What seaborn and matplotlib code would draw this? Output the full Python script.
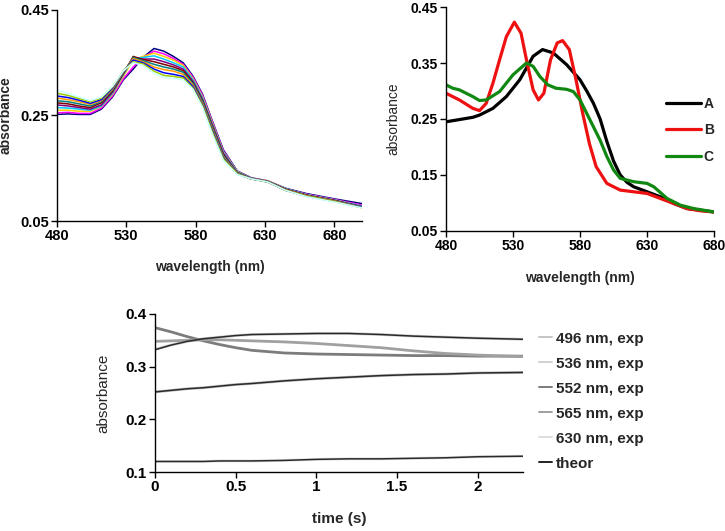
import numpy as np
import pandas as pd
import matplotlib
matplotlib.use("Agg")
import matplotlib.pyplot as plt
from matplotlib.lines import Line2D
import seaborn as sns

# ---- top-left: family of spectra recorded over time ----
wl_left = [480, 488, 496, 504, 512, 520, 528, 535, 542, 550, 557, 564,
           571, 578, 585, 592, 600, 610, 620, 632, 645, 660, 680, 700]
spectra_left = [
    [.252, .253, .252, .252, .262, .285, .318, .338, .360, .377, .372, .362, .350, .325, .290, .240, .185, .145, .132, .126, .112, .102, .092, .083],
    [.255, .256, .254, .254, .264, .287, .320, .342, .360, .372, .367, .358, .347, .323, .288, .238, .183, .144, .131, .126, .111, .101, .091, .080],
    [.260, .260, .258, .258, .267, .290, .325, .355, .362, .368, .362, .355, .345, .320, .285, .236, .181, .144, .131, .126, .111, .100, .090, .078],
    [.265, .264, .262, .260, .268, .292, .328, .358, .360, .363, .357, .350, .342, .318, .283, .234, .180, .143, .131, .125, .111, .100, .090, .078],
    [.270, .268, .265, .262, .270, .294, .330, .360, .357, .357, .352, .346, .338, .315, .280, .232, .178, .142, .131, .125, .110, .099, .089, .077],
    [.274, .272, .268, .265, .274, .296, .330, .362, .356, .352, .347, .342, .335, .313, .278, .230, .176, .141, .130, .125, .110, .099, .089, .077],
    [.278, .276, .272, .268, .276, .298, .332, .360, .354, .347, .342, .338, .332, .311, .276, .228, .174, .141, .130, .125, .109, .098, .088, .077],
    [.283, .280, .276, .271, .278, .300, .333, .358, .352, .342, .337, .334, .328, .308, .273, .225, .172, .140, .130, .124, .109, .098, .088, .076],
    [.287, .284, .279, .273, .280, .302, .334, .355, .350, .338, .331, .328, .324, .305, .270, .222, .170, .139, .130, .124, .108, .097, .087, .076],
    [.292, .288, .282, .276, .283, .304, .335, .352, .348, .334, .326, .324, .321, .302, .268, .219, .168, .139, .130, .124, .108, .097, .087, .075],
    [.298, .292, .285, .278, .285, .305, .335, .350, .345, .330, .322, .320, .318, .300, .265, .215, .165, .138, .130, .124, .108, .096, .086, .075],
]
colors_left = ["#000080", "#FF00FF", "#FFCC00", "#00CCFF", "#800080", "#800000",
               "#008080", "#FF9900", "#0000FF", "#99CC00", "#CCFFFF"]

# ---- top-right: three reference spectra ----
wl_A = [480, 490, 500, 505, 515, 525, 535, 545, 552, 560, 570, 580, 585, 590,
        595, 600, 605, 610, 615, 620, 630, 640, 650, 660, 670, 680]
abs_A = [.245, .249, .253, .257, .269, .290, .320, .362, .374, .368, .347, .320, .300, .278,
         .250, .210, .175, .150, .137, .129, .120, .111, .099, .090, .087, .084]
wl_B = [480, 490, 500, 505, 510, 515, 520, 525, 531, 536, 540, 545, 549, 553, 558, 563,
        567, 572, 577, 582, 587, 592, 600, 610, 620, 630, 640, 650, 660, 670, 680]
abs_B = [.296, .284, .269, .265, .278, .314, .356, .397, .423, .403, .356, .302, .284, .296, .356, .386,
         .390, .374, .320, .260, .206, .165, .135, .123, .120, .117, .108, .099, .090, .086, .084]
wl_C = [480, 485, 490, 500, 505, 510, 520, 530, 540, 545, 550, 556, 562, 570, 575, 580,
        585, 590, 595, 600, 605, 610, 620, 630, 635, 645, 655, 665, 680]
abs_C = [.311, .305, .302, .290, .283, .284, .299, .329, .350, .344, .326, .311, .305, .303, .299, .284,
         .260, .236, .212, .183, .159, .144, .138, .135, .129, .108, .096, .090, .084]

# ---- bottom: kinetic traces (exp) and fits (theor) ----
time_s = [0, 0.1, 0.2, 0.3, 0.4, 0.5, 0.6, 0.8, 1.0, 1.2, 1.4, 1.6, 1.8, 2.0, 2.28]
kin_496 = [.252, .255, .258, .260, .263, .266, .268, .273, .277, .280, .283, .285, .286, .288, .289]
kin_536 = [.333, .341, .348, .353, .356, .359, .361, .362, .363, .363, .361, .358, .356, .354, .352]
kin_552 = [.374, .366, .357, .349, .342, .336, .331, .326, .324, .323, .322, .321, .321, .320, .320]
kin_565 = [.348, .349, .350, .351, .351, .350, .349, .347, .344, .340, .336, .330, .325, .322, .319]
kin_630 = [.120, .120, .120, .120, .121, .121, .121, .122, .124, .125, .125, .126, .127, .129, .130]
theor_496 = [.252, .255, .258, .260, .263, .266, .268, .273, .277, .280, .283, .285, .286, .288, .289]
theor_536 = [.332, .341, .348, .353, .356, .359, .361, .362, .363, .363, .361, .358, .356, .354, .352]
theor_630 = [.120, .120, .120, .120, .121, .121, .121, .122, .124, .125, .125, .126, .127, .129, .130]
kin_labels = ["496 nm, exp", "536 nm, exp", "552 nm, exp", "565 nm, exp", "630 nm, exp"]
kin_colors = ["#c4c4c4", "#d0d0d0", "#7c7c7c", "#a0a0a0", "#dedede"]

sns.set_style("ticks")
plt.rcParams["font.family"] = ["Liberation Sans", "DejaVu Sans"]
plt.rcParams["axes.linewidth"] = 1.0

fig = plt.figure(figsize=(7.25, 5.31), dpi=100)
ax1 = fig.add_axes([0.0786, 0.5838, 0.4207, 0.3974])
ax2 = fig.add_axes([0.6152, 0.565, 0.3697, 0.4218])
ax3 = fig.add_axes([0.2138, 0.1111, 0.5076, 0.2976])

# top-left
rows = []
for i, spec in enumerate(spectra_left):
    for w, a in zip(wl_left, spec):
        rows.append((w, a, i))
df_left = pd.DataFrame(rows, columns=["wl", "abs", "trace"])
sns.lineplot(data=df_left, x="wl", y="abs", hue="trace", palette=colors_left,
             linewidth=1.1, legend=False, ax=ax1)
ax1.set_xlim(480, 700)
ax1.set_ylim(0.05, 0.45)
ax1.set_xticks([480, 530, 580, 630, 680])
ax1.set_yticks([0.05, 0.25, 0.45])
ax1.set_yticklabels(["0.05", "0.25", "0.45"])
ax1.set_xlabel("wavelength (nm)", fontsize=10, fontweight="bold", labelpad=12)
ax1.set_ylabel("absorbance", fontsize=10, fontweight="bold", labelpad=5)

# top-right
df_right = pd.concat([
    pd.DataFrame({"wl": wl_A, "abs": abs_A, "sample": "A"}),
    pd.DataFrame({"wl": wl_B, "abs": abs_B, "sample": "B"}),
    pd.DataFrame({"wl": wl_C, "abs": abs_C, "sample": "C"}),
])
sns.lineplot(data=df_right, x="wl", y="abs", hue="sample",
             palette={"A": "black", "B": "#ee1111", "C": "#118811"},
             linewidth=2.3, ax=ax2)
ax2.set_xlim(480, 680)
ax2.set_ylim(0.05, 0.45)
ax2.set_xticks([480, 530, 580, 630, 680])
ax2.set_yticks([0.05, 0.15, 0.25, 0.35, 0.45])
ax2.set_yticklabels(["0.05", "0.15", "0.25", "0.35", "0.45"])
ax2.set_xlabel("wavelength (nm)", fontsize=10, fontweight="bold", labelpad=13)
ax2.set_ylabel("absorbance", fontsize=10, labelpad=7)
ax2.legend(loc="upper left", bbox_to_anchor=(0.775, 0.655), frameon=False,
           handlelength=2.5, handletextpad=0.2, labelspacing=0.9,
           prop={"weight": "bold", "size": 10})

# bottom
kin_series = [kin_496, kin_536, kin_552, kin_565, kin_630]
df_kin = pd.concat([pd.DataFrame({"t": time_s, "abs": s, "wl": lab})
                    for s, lab in zip(kin_series, kin_labels)])
sns.lineplot(data=df_kin, x="t", y="abs", hue="wl",
             palette=dict(zip(kin_labels, kin_colors)),
             linewidth=2.0, legend=False, ax=ax3)
df_theor = pd.concat([pd.DataFrame({"t": time_s, "abs": s, "wl": w})
                      for s, w in zip([theor_496, theor_536, theor_630], ["496", "536", "630"])])
sns.lineplot(data=df_theor, x="t", y="abs", units="wl", estimator=None,
             color="#2a2a2a", linewidth=1.1, legend=False, ax=ax3)
ax3.set_xlim(0, 2.28)
ax3.set_ylim(0.1, 0.4)
ax3.set_xticks([0, 0.5, 1, 1.5, 2])
ax3.set_xticklabels(["0", "0.5", "1", "1.5", "2"])
ax3.set_yticks([0.1, 0.2, 0.3, 0.4])
ax3.set_yticklabels(["0.1", "0.2", "0.3", "0.4"])
ax3.set_xlabel("time (s)", fontsize=11, fontweight="bold", labelpad=13)
ax3.set_ylabel("absorbance", fontsize=11, labelpad=11)
handles = [Line2D([], [], color=c, linewidth=1.4) for c in kin_colors]
handles.append(Line2D([], [], color="#222222", linewidth=1.4))
ax3.legend(handles, kin_labels + ["theor"], loc="upper left",
           bbox_to_anchor=(1.005, 0.975), frameon=False, handlelength=0.9,
           handletextpad=0.25, labelspacing=0.72,
           prop={"weight": "bold", "size": 11})

for ax, fs in ((ax1, 10.5), (ax2, 10), (ax3, 11)):
    sns.despine(ax=ax)
    ax.tick_params(labelsize=fs, length=4, width=1, pad=2, colors="black")
    for lab in ax.get_xticklabels() + ax.get_yticklabels():
        lab.set_fontweight("bold")
    ax.spines["left"].set_color("black")
    ax.spines["bottom"].set_color("black")

fig.savefig("out.png", dpi=100)
